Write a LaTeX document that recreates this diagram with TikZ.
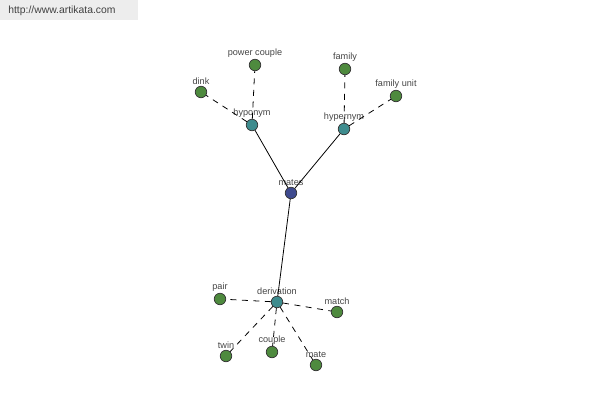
\documentclass[tikz,border=0pt]{standalone}
\usepackage{fontspec}
\setmainfont{Liberation Sans}
\definecolor{leafgreen}{HTML}{4E8A3E}
\definecolor{relteal}{HTML}{3E8C8E}
\definecolor{rootblue}{HTML}{3E4A8E}
\definecolor{labelgray}{HTML}{444444}
\tikzset{
  word/.style={circle, draw=black!80, line width=0.4pt, fill=leafgreen, inner sep=0pt, minimum size=2.3mm,
    label={[text=labelgray, font=\fontsize{5.2}{6}\selectfont, label distance=-0.9mm]above:#1}},
  rel/.style={word=#1, fill=relteal},
  root/.style={word=#1, fill=rootblue},
  link/.style={line width=0.45pt},
  weak/.style={link, dash pattern=on 1.2mm off 1.1mm}
}
\begin{document}
\begin{tikzpicture}[x=0.02cm, y=-0.02cm]
	\useasboundingbox (0,0) rectangle (600,400);
	\fill[black!7] (0,0) rectangle (138,20);
	\node[anchor=west, text=black!75, font=\fontsize{5.9}{7}\selectfont, inner sep=0pt] (site) at (8,11) {http://www.artikata.com};
	
	\node[root=mates] (mates) at (291,193) {};
	\node[rel=hyponym] (hypo) at (252,125) {};
	\node[rel=hypernym] (hyper) at (344,129) {};
	\node[rel=derivation] (deriv) at (277,302) {};
	
	\node[word=dink] (dink) at (201,92) {};
	\node[word=power couple] (power) at (255,65) {};
	\node[word=family] (family) at (345,69) {};
	\node[word=family unit] (unit) at (396,96) {};
	\node[word=pair] (pair) at (220,299) {};
	\node[word=match] (match) at (337,312) {};
	\node[word=twin] (twin) at (226,356) {};
	\node[word=couple] (couple) at (272,352) {};
	\node[word=mate] (mate) at (316,365) {};
	
	\draw[link] (mates) -- (hypo);
	\draw[link] (mates) -- (hyper);
	\draw[link] (mates) -- (deriv);
	\draw[weak] (hypo) -- (dink);
	\draw[weak] (hypo) -- (power);
	\draw[weak] (hyper) -- (family);
	\draw[weak] (hyper) -- (unit);
	\foreach \w in {pair, match, twin, couple, mate}
		\draw[weak] (deriv) -- (\w);
\end{tikzpicture}
\end{document}
